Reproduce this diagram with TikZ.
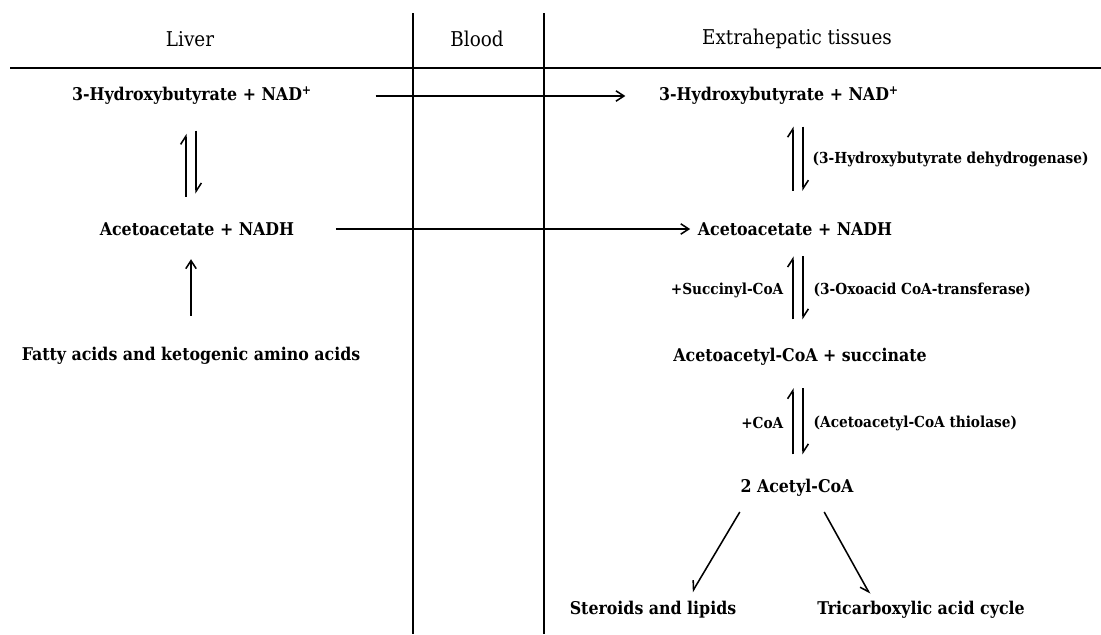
\documentclass[tikz,border=0pt]{standalone}
\usepackage{amsmath}
\usepackage{fontspec}
\usepackage{tikz}
\usetikzlibrary{arrows.meta}
\newfontfamily\bookfont{DejaVu Serif Condensed}
\tikzstyle{head}=[font=\bookfont\fontsize{14.5}{16}\selectfont, inner sep=1pt]
\tikzstyle{chem}=[font=\bookfont\bfseries\fontsize{12.5}{15}\selectfont, inner sep=1pt]
\tikzstyle{enzyme}=[font=\bookfont\bfseries\fontsize{10.8}{12}\selectfont, inner sep=1pt]
\tikzstyle{flow}=[line width=1.1pt, -{Straight Barb[length=2mm,width=2.6mm]}]
\tikzstyle{harp}=[line width=1.1pt, -{Straight Barb[harpoon,length=2mm,width=2.6mm]}]
\tikzstyle{harpsw}=[line width=1.1pt, -{Straight Barb[harpoon,swap,length=2mm,width=2.6mm]}]
\tikzstyle{divider}=[line width=1.1pt]

\begin{document}
\begin{tikzpicture}[x=0.025cm, y=-0.025cm]
        \useasboundingbox (0,0) rectangle (1101,634);
        \fill[white] (0,0) rectangle (1101,634);
        \draw[divider] (413,13) -- (413,634);
        \draw[divider] (544,13) -- (544,634);
        \draw[line width=1.5pt] (10,68) -- (1101,68);
        \node[head] (hLiver) at (190,39) {Liver};
        \node[head] (hBlood) at (477,39) {Blood};
        \node[head] (hTissue) at (797,39) {Extrahepatic tissues};
        \node[chem] (liverHB) at (192,96) {3-Hydroxybutyrate + NAD\textsuperscript{+}};
        \node[chem] (liverAA) at (197,229) {Acetoacetate + NADH};
        \node[chem] (fatty) at (191,356) {Fatty acids and ketogenic amino acids};
        \node[chem] (tisHB) at (779,96) {3-Hydroxybutyrate + NAD\textsuperscript{+}};
        \node[chem] (tisAA) at (795,229) {Acetoacetate + NADH};
        \node[chem] (tisAcCoA) at (800,357) {Acetoacetyl-CoA + succinate};
        \node[chem] (tisAcetyl) at (797,488) {2 Acetyl-CoA};
        \node[chem] (steroids) at (653,610) {Steroids and lipids};
        \node[chem] (tca) at (921,610) {Tricarboxylic acid cycle};
        \coordinate (eqL) at (191,0);
        \coordinate (eqR) at (798,0);
        \draw[flow, shorten <=1.55cm, shorten >=0.8cm] (liverHB.east) -- (tisHB.west);
        \draw[flow, shorten <=1cm, shorten >=0.15cm] (liverAA.east) -- (tisAA.west);
        \draw[flow, shorten <=0.75cm, shorten >=0.55cm] (fatty.north -| eqL) -- (liverAA.south -| eqL);
        \draw[harp, shorten <=0.6cm, shorten >=0.68cm] ([xshift=-0.13cm]liverAA.north -| eqL) -- ([xshift=-0.13cm]liverHB.south -| eqL);
        \draw[harp, shorten <=0.6cm, shorten >=0.68cm] ([xshift=0.13cm]liverHB.south -| eqL) -- ([xshift=0.13cm]liverAA.north -| eqL);
        \draw[harp, shorten <=0.75cm, shorten >=0.5cm] ([xshift=-0.13cm]tisAA.north -| eqR) -- ([xshift=-0.13cm]tisHB.south -| eqR);
        \draw[harp, shorten <=0.5cm, shorten >=0.75cm] ([xshift=0.13cm]tisHB.south -| eqR) -- ([xshift=0.13cm]tisAA.north -| eqR);
        \draw[harp, shorten <=0.68cm, shorten >=0.48cm] ([xshift=-0.13cm]tisAcCoA.north -| eqR) -- ([xshift=-0.13cm]tisAA.south -| eqR);
        \draw[harp, shorten <=0.48cm, shorten >=0.68cm] ([xshift=0.13cm]tisAA.south -| eqR) -- ([xshift=0.13cm]tisAcCoA.north -| eqR);
        \draw[harp, shorten <=0.58cm, shorten >=0.52cm] ([xshift=-0.13cm]tisAcetyl.north -| eqR) -- ([xshift=-0.13cm]tisAcCoA.south -| eqR);
        \draw[harp, shorten <=0.52cm, shorten >=0.58cm] ([xshift=0.13cm]tisAcCoA.south -| eqR) -- ([xshift=0.13cm]tisAcetyl.north -| eqR);
        \node[enzyme, anchor=west] (dehyd) at (811,159) {(3-Hydroxybutyrate dehydrogenase)};
        \node[enzyme, anchor=east] (succ) at (785,290) {+Succinyl-CoA};
        \node[enzyme, anchor=west] (transf) at (812,290) {(3-Oxoacid CoA-transferase)};
        \node[enzyme, anchor=east] (coa) at (785,423) {+CoA};
        \node[enzyme, anchor=west] (thiol) at (812,423) {(Acetoacetyl-CoA thiolase)};
        \draw[harpsw] ([xshift=-1.43cm, yshift=-0.6cm]tisAcetyl.center) -- ([xshift=0.98cm, yshift=0.45cm]steroids.center);
        \draw[harpsw] ([xshift=0.68cm, yshift=-0.6cm]tisAcetyl.center) -- ([xshift=-1.28cm, yshift=0.4cm]tca.center);
    \end{tikzpicture}
\end{document}
